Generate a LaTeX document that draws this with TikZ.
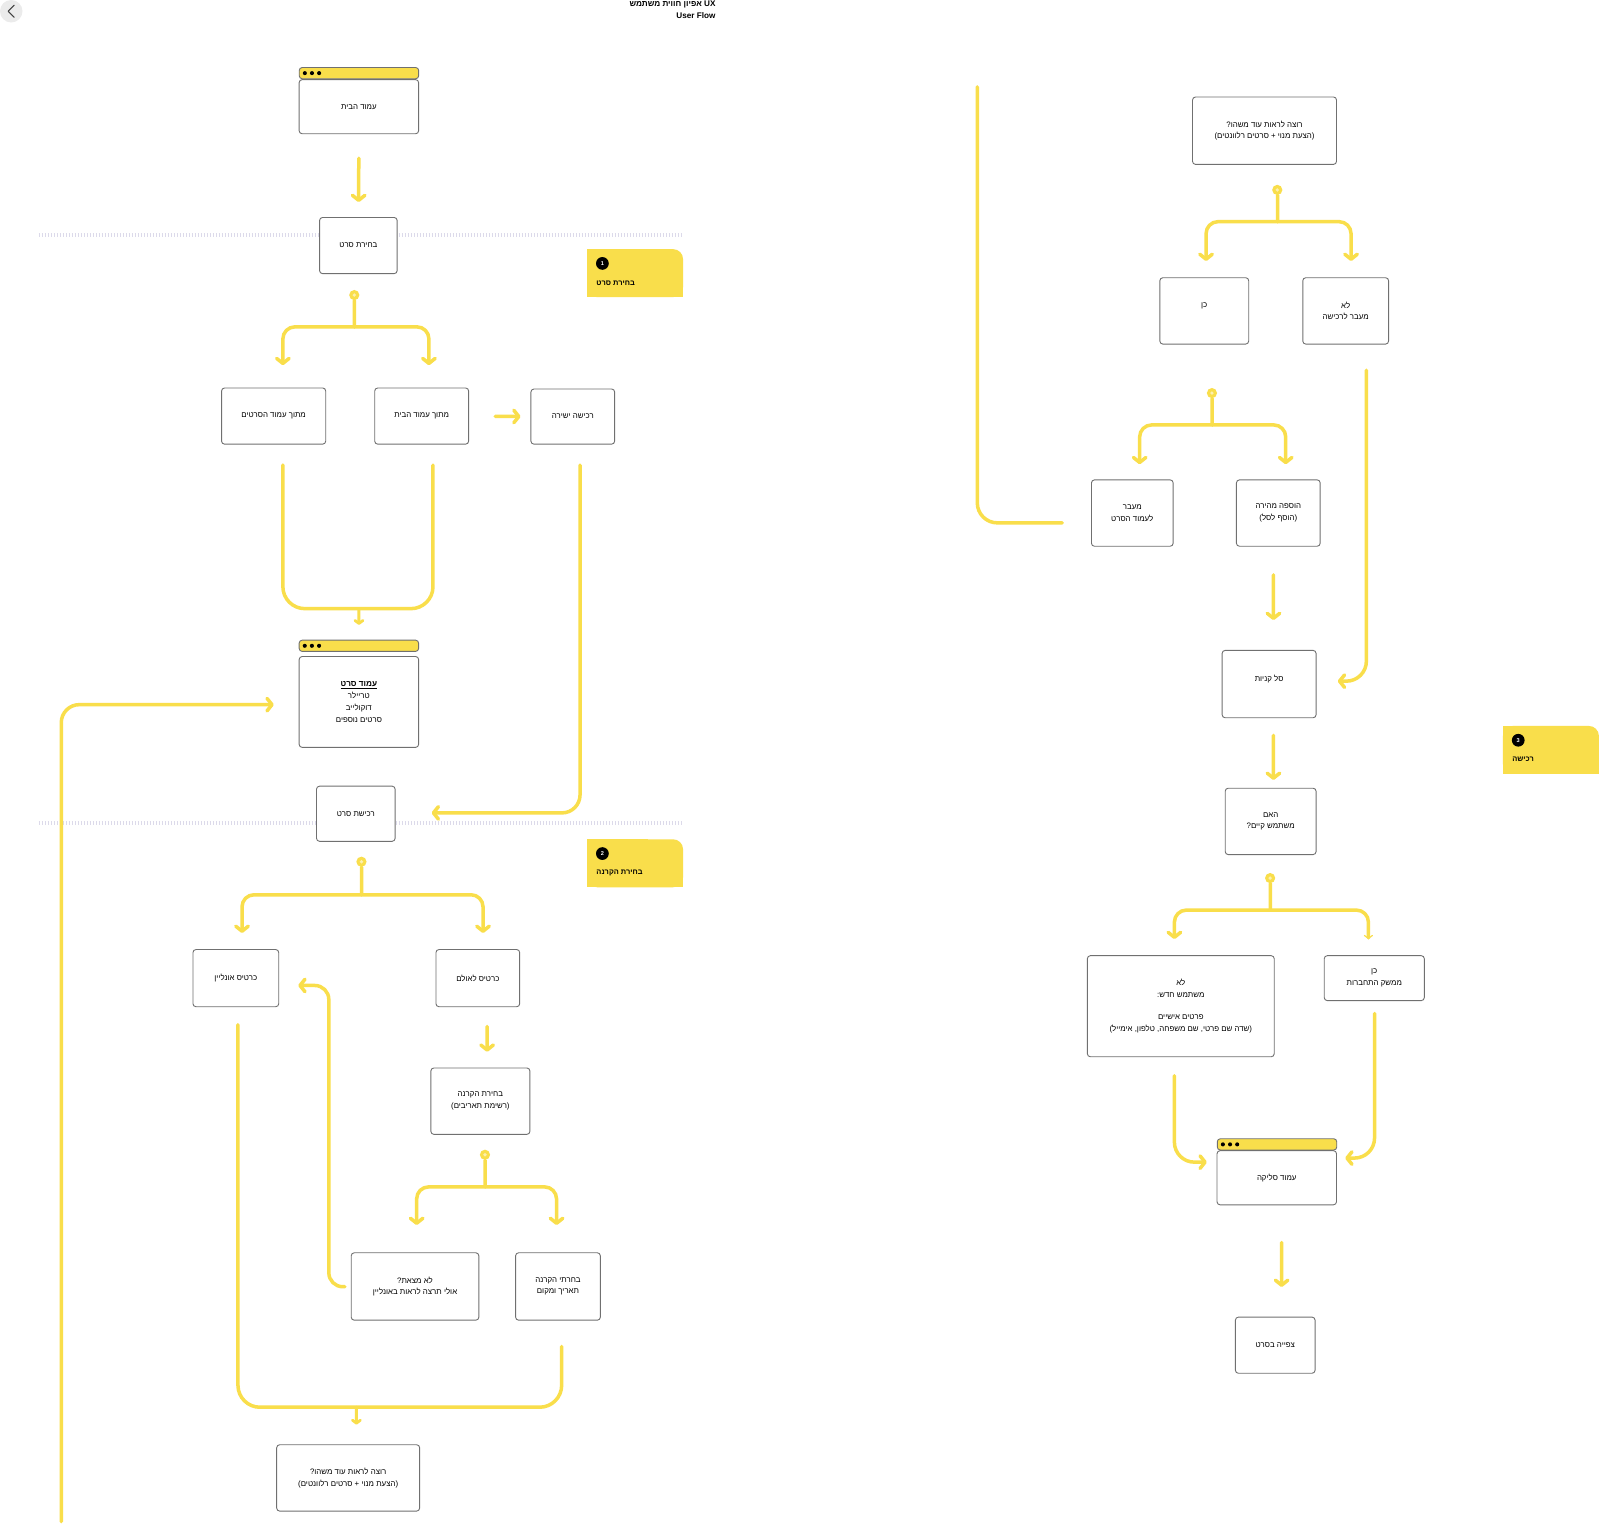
\documentclass[tikz,border=0pt]{standalone}
\usepackage{fontspec}
\setmainfont{Liberation Sans}
\newfontfamily\hebfont[Script=Hebrew]{Liberation Sans}
\TeXXeTstate=1
\usetikzlibrary{arrows.meta}
\definecolor{flowyellow}{HTML}{F9DE4B}
\definecolor{boxgray}{HTML}{707070}
\definecolor{sepgray}{HTML}{DCDAEA}
\newcommand{\rtltext}[1]{\beginR #1\endR}
\tikzset{
	box/.style={draw=boxgray, line width=0.9pt, rounded corners=3pt, fill=white, align=center, inner sep=0pt, font=\hebfont\fontsize{7.7}{11.5}\selectfont},
	wh/.style 2 args={minimum width=#1pt, minimum height=#2pt},
	winbar/.style={draw=boxgray, line width=0.9pt, rounded corners=3pt, fill=flowyellow, inner sep=0pt, minimum width=117pt, minimum height=11pt, path picture={
		\foreach \dx in {5.5,12.5,19.5}
			\fill[black] ([xshift=\dx pt]path picture bounding box.west) circle (2pt);}},
	forkdot/.style={circle, fill=flowyellow, inner sep=0pt, minimum size=10pt, path picture={\fill[white!55!flowyellow] (path picture bounding box.center) circle (1.8pt);}},
	flow/.style={draw=flowyellow, line width=3.5pt, line cap=round, line join=round, rounded corners=12pt},
	flowarrow/.style={flow, -{Straight Barb[length=5pt, width=12.5pt, line width=3.5pt, round]}},
	smallarrow/.style={flow, line width=3pt, -{Straight Barb[length=3pt, width=8pt, line width=2.8pt, round]}},
	sepline/.style={draw=sepgray, line width=4pt, dash pattern=on 1.2pt off 1.8pt},
	tagtext/.style={anchor=west, inner sep=0pt, font=\hebfont\bfseries\fontsize{7.3}{9}\selectfont}
}
\begin{document}
\begin{tikzpicture}[x=1pt, y=-1pt, scale=1.021, transform shape]
	\fill[white] (0,0) rectangle (1568.07,1492.65);
	\useasboundingbox (0,0) rectangle (1568.07,1492.65);

	\fill[black!8] (11,11) circle (11pt);
	\draw[black!75, line width=1pt, line cap=round, line join=round] (14,5) -- (8,11) -- (14,17);
	\node[anchor=north east, align=right, inner sep=0pt, font=\hebfont\bfseries\fontsize{8}{12}\selectfont] (title) at (701,0.5) {\rtltext{\beginL UX\endL{} אפיון חווית משתמש}\\User Flow};

	\draw[sepline] (38,230) -- (669,230);
	\draw[sepline] (38,806) -- (669,806);

	\foreach \x/\y/\n/\t in {575/244/1/{בחירת סרט}, 575/822/2/{בחירת הקרנה}, 1472/711/3/{רכישה}}{
		\fill[flowyellow, rounded corners=10pt] (\x,\y) rectangle (\x+94,\y+47);
		\fill[flowyellow] (\x,\y+12) rectangle (\x+94,\y+47);
		\fill[flowyellow] (\x,\y) rectangle (\x+60,\y+47);
		\node[circle, fill=black, inner sep=0pt, minimum size=12.5pt, text=white, font=\bfseries\fontsize{5.5}{5.5}\selectfont] (tagnum\n) at (\x+15,\y+14) {\n};
		\node[tagtext] (tagname\n) at (\x+9,\y+33) {\rtltext{\t}};
	}

	\node[box, wh={117}{53}] (home) at (351.5,104.5) {\rtltext{עמוד הבית}};
	\node[winbar, anchor=south] (homebar) at (home.north) {};
	\node[box, wh={76}{55}] (pick) at (351,240.5) {\rtltext{בחירת סרט}};
	\node[forkdot] (f1) at (347,289) {};
	\node[box, wh={102}{55}] (movies) at (268,407.5) {\rtltext{מתוך עמוד הסרטים}};
	\node[box, wh={92}{55}] (fromhome) at (413,407.5) {\rtltext{מתוך עמוד הבית}};
	\node[box, wh={82}{54}] (direct) at (561,408) {\rtltext{רכישה ישירה}};
	\node[winbar] (moviebar) at (351.5,632.5) {};
	\node[box, wh={117}{89}] (movie) at (351.5,687.5) {\underline{\rtltext{\textbf{\fontsize{8}{11.5}\selectfont עמוד סרט}}}\\\rtltext{טריילר}\\\rtltext{דוקולייב}\\\rtltext{סרטים נוספים}};
	\node[box, wh={77}{54}] (purchase) at (348.5,797) {\rtltext{רכישת סרט}};
	\node[forkdot] (f2) at (354,844) {};
	\node[box, wh={84}{56}] (online) at (231,958) {\rtltext{כרטיס אונליין}};
	\node[box, wh={82}{56}] (hall) at (468,958) {\rtltext{כרטיס לאולם}};
	\node[box, wh={97}{65}] (screening) at (470.5,1078.5) {\rtltext{בחירת הקרנה}\\\rtltext{(רשימת תאריבים)}};
	\node[forkdot] (f3) at (475,1131) {};
	\node[box, wh={125}{66}] (notfound) at (406.5,1260) {\rtltext{לא מצאת?}\\\rtltext{אולי תרצה לראות באונליין}};
	\node[box, wh={83}{66}] (chosen) at (546.5,1260) {\rtltext{בחרתי הקרנה}\\\rtltext{תאריך ומקום}};
	\node[box, wh={140}{65}] (more) at (341,1447.5) {\rtltext{רוצה לראות עוד משהו?}\\\rtltext{(הצעת מנוי + סרטים רלוונטים)}};

	\node[box, wh={141}{66}] (moreright) at (1238.5,128) {\rtltext{רוצה לראות עוד משהו?}\\\rtltext{(הצעת מנוי + סרטים רלוונטים)}};
	\node[forkdot] (f4) at (1251,186) {};
	\node[box, wh={87}{65}] (yes) at (1179.5,304.5) {\rtltext{כן}\\\mbox{}};
	\node[box, wh={84}{65}] (no) at (1318,304.5) {\rtltext{לא}\\\rtltext{מעבר לרכישה}};
	\node[forkdot] (f5) at (1187,385) {};
	\node[box, wh={80}{65}] (tomovie) at (1109,502.5) {\rtltext{מעבר}\\\rtltext{לעמוד הסרט}};
	\node[box, wh={82}{65}] (quickadd) at (1252,502.5) {\rtltext{הוספה מהירה}\\\rtltext{(הוסף לסל)}};
	\node[box, wh={92}{66}] (cart) at (1243,670) {\rtltext{סל קניות}\\\mbox{}};
	\node[box, wh={89}{65}] (exists) at (1244.5,804.5) {\rtltext{האם}\\\rtltext{משתמש קיים?}};
	\node[forkdot] (f6) at (1244,860) {};
	\node[box, wh={183}{99}] (newuser) at (1156.5,985.5) {\rtltext{לא}\\\rtltext{משתמש חדש:}\\[10pt]\rtltext{פרטים אישיים}\\\rtltext{(שדה שם פרטי, שם משפחה, טלפון, אימייל)}};
	\node[box, wh={98}{44}] (login) at (1346,958) {\rtltext{כן}\\\rtltext{ממשק התחברות}};
	\node[box, wh={117}{53}] (checkout) at (1250.5,1153.5) {\rtltext{עמוד סליקה}};
	\node[winbar, anchor=south] (checkoutbar) at (checkout.north) {};
	\node[box, wh={78}{55}] (watch) at (1249,1317.5) {\rtltext{צפייה בסרט}};

	\draw[flowarrow, shorten <=24pt, shorten >=15pt] (home) -- (pick);
	\draw[flow] (f1) -- ++(0,31) coordinate (j1);
	\draw[flowarrow] (j1) -| ([xshift=9pt,yshift=22pt]movies.north);
	\draw[flowarrow] (j1) -| ([xshift=7pt,yshift=22pt]fromhome.north);
	\draw[flowarrow, shorten <=26pt, shorten >=10pt] (fromhome) -- (direct);
	\coordinate (m1) at (351.5,596);
	\draw[flow, rounded corners=22pt] ([xshift=9pt,yshift=-20pt]movies.south) |- (m1) -| ([xshift=11pt,yshift=-20pt]fromhome.south);
	\draw[smallarrow, shorten >=15pt] (m1) -- (moviebar);
	\coordinate (leftin) at (60,1490);
	\draw[flowarrow, rounded corners=18pt, shorten >=25pt] (leftin) |- ([yshift=-2.5pt]movie.west);
	\draw[flowarrow, rounded corners=18pt, shorten >=36pt] ([xshift=7pt,yshift=-20pt]direct.south) |- ([yshift=1pt]purchase.east);
	\draw[flow] (f2) -- ++(0,32) coordinate (j2);
	\draw[flowarrow] (j2) -| ([xshift=6pt,yshift=16pt]online.north);
	\draw[flowarrow] (j2) -| ([xshift=5pt,yshift=16pt]hall.north);
	\draw[flowarrow, shorten <=19pt, shorten >=16pt] ([xshift=9pt]hall.south) -- ([xshift=6.5pt]screening.north);
	\draw[flow] (f3) -- ++(0,31) coordinate (j3);
	\draw[flowarrow] (j3) -| ([xshift=1.5pt,yshift=27pt]notfound.north);
	\draw[flowarrow] (j3) -| ([xshift=-1.5pt,yshift=27pt]chosen.north);
	\coordinate (back) at (322,965);
	\draw[flowarrow, rounded corners=14pt, shorten <=6pt, shorten >=19pt] (notfound.west) -| (back) -- ([yshift=-7pt]online.east);
	\coordinate (m2) at (349,1378);
	\draw[flow, rounded corners=22pt] ([xshift=2pt,yshift=-17pt]online.south) |- (m2) -| ([xshift=3.5pt,yshift=-25pt]chosen.south);
	\draw[smallarrow, shorten >=20pt] (m2) -- ([xshift=8pt]more.north);

	\coordinate (rtop) at (957,85);
	\draw[flow, rounded corners=20pt, shorten >=29pt] (rtop) |- ([yshift=-9.5pt]tomovie.west);
	\draw[flow] (f4) -- ++(0,31) coordinate (j4);
	\draw[flowarrow] (j4) -| ([xshift=1.5pt,yshift=16pt]yes.north);
	\draw[flowarrow] (j4) -| ([xshift=5pt,yshift=16pt]no.north);
	\draw[flow] (f5) -- ++(0,31) coordinate (j5);
	\draw[flowarrow] (j5) -| ([xshift=7pt,yshift=15pt]tomovie.north);
	\draw[flowarrow] (j5) -| ([xshift=7pt,yshift=15pt]quickadd.north);
	\draw[flowarrow, rounded corners=20pt, shorten >=21pt] ([xshift=20pt,yshift=-25pt]no.south) |- ([yshift=3pt]cart.east);
	\draw[flowarrow, shorten <=28pt, shorten >=30pt] ([xshift=-5pt]quickadd.south) -- ([xshift=4pt]cart.north);
	\draw[flowarrow, shorten <=17pt, shorten >=8pt] ([xshift=4pt]cart.south) -- ([xshift=2.5pt]exists.north);
	\draw[flow] (f6) -- ++(0,31) coordinate (j6);
	\draw[flowarrow] (j6) -| ([xshift=-6.5pt,yshift=16pt]newuser.north);
	\draw[flow, -{Straight Barb[length=3pt, width=8pt, line width=1.2pt, round]}] (j6) -| ([xshift=-6pt,yshift=16pt]login.north);
	\draw[flowarrow, rounded corners=20pt, shorten >=10pt] ([xshift=-6.5pt,yshift=-18pt]newuser.south) |- ([yshift=15.5pt]checkout.west);
	\draw[flowarrow, rounded corners=20pt, shorten >=8pt] ([yshift=-12pt]login.south) |- ([yshift=19.5pt]checkout.east);
	\draw[flowarrow, shorten <=37pt, shorten >=30pt] ([xshift=4.5pt]checkout.south) -- ([xshift=6pt]watch.north);
\end{tikzpicture}
\end{document}
